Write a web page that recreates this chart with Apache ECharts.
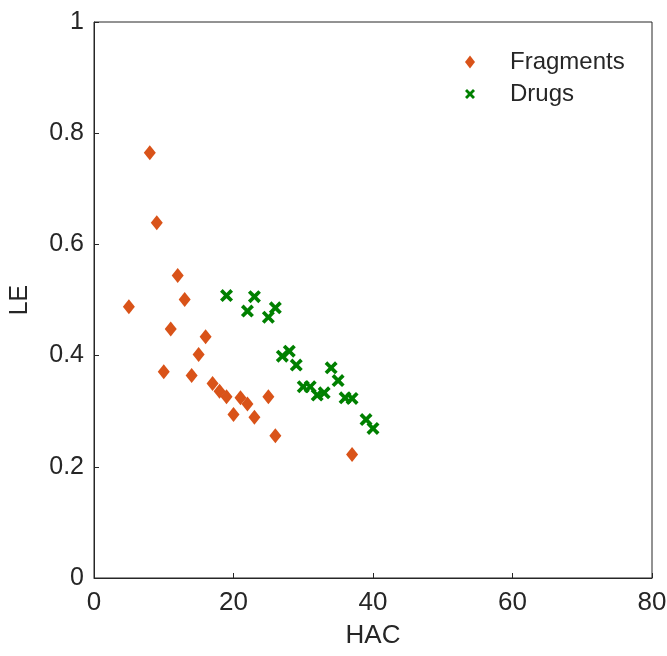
<!DOCTYPE html>
<html>
<head>
<meta charset="utf-8">
<script src="https://cdn.jsdelivr.net/npm/echarts@6/dist/echarts.min.js"></script>
<style>
  html, body { margin: 0; padding: 0; background: #fff; }
  #main { width: 667px; height: 656px; }
</style>
</head>
<body>
<div id="main"></div>
<script>
// 数据
var fragHac = [5, 8, 9, 10, 11, 12, 13, 14, 15, 16, 17, 18, 19, 20, 21, 22, 23, 25, 26, 37];
var fragLe = [0.488, 0.765, 0.639, 0.371, 0.448, 0.544, 0.501, 0.364, 0.402, 0.434,
  0.350, 0.336, 0.326, 0.294, 0.324, 0.313, 0.289, 0.326, 0.256, 0.222];
var drugHac = [19, 22, 23, 25, 26, 27, 28, 29, 30, 31, 32, 33, 34, 35, 36, 37, 39, 40];
var drugLe = [0.508, 0.480, 0.506, 0.469, 0.486, 0.399, 0.408, 0.383, 0.344, 0.344,
  0.329, 0.333, 0.378, 0.355, 0.324, 0.323, 0.285, 0.269];

var xTicks = [0, 20, 40, 60, 80];
var yTicks = [0, 0.2, 0.4, 0.6, 0.8, 1];

var crossPath = "path://M2,0 L5,3 L8,0 L10,2 L7,5 L10,8 L8,10 L5,7 L2,10 L0,8 L3,5 L0,2 Z";
var txtColor = "#262626";
var font = "Arial, Liberation Sans";

var myChart = echarts.init(document.getElementById("main"));

var option = {
  animation: false,
  grid: {
    left: 94,
    right: 15,
    top: 22,
    bottom: 78,
    outerBoundsMode: "none", // 不自动收缩
    show: true,
    borderColor: txtColor, // 外框
    borderWidth: 1
  },
  legend: {
    left: 460,
    top: 45,
    orient: "vertical",
    itemGap: 8,
    itemWidth: 10,
    itemHeight: 13,
    textStyle: { color: txtColor, fontSize: 24, fontFamily: font, padding: [0, 0, 0, 30] },
    data: [
      { name: "Fragments", icon: "diamond" },
      { name: "Drugs", icon: crossPath }
    ]
  },
  xAxis: {
    type: "value",
    min: xTicks[0],
    max: xTicks[xTicks.length - 1],
    interval: 20,
    name: "HAC",
    nameLocation: "middle",
    nameGap: 45,
    nameTextStyle: { color: txtColor, fontSize: 26, fontFamily: font },
    splitLine: { show: false },
    axisLine: { show: true, lineStyle: { color: txtColor } },
    axisTick: { inside: true, length: 5, lineStyle: { color: txtColor } },
    axisLabel: { color: txtColor, fontSize: 26, margin: 12, fontFamily: font }
  },
  yAxis: {
    type: "value",
    min: yTicks[0],
    max: yTicks[yTicks.length - 1],
    interval: 0.2,
    name: "LE",
    nameLocation: "middle",
    nameGap: 61,
    nameTextStyle: { color: txtColor, fontSize: 25, fontFamily: font },
    splitLine: { show: false },
    axisLine: { show: true, lineStyle: { color: txtColor } },
    axisTick: { inside: true, length: 5, lineStyle: { color: txtColor } },
    axisLabel: { color: txtColor, fontSize: 25, margin: 10, fontFamily: font }
  },
  series: [
    {
      name: "Fragments",
      type: "scatter",
      symbol: "diamond",
      symbolSize: [12, 15],
      itemStyle: { color: "#D95319", opacity: 1 },
      data: fragHac.map(function (h, i) { return [h, fragLe[i]]; })
    },
    {
      name: "Drugs",
      type: "scatter",
      symbol: crossPath,
      symbolSize: 13,
      itemStyle: { color: "#008000", opacity: 1 },
      data: drugHac.map(function (h, i) { return [h, drugLe[i]]; })
    }
  ]
};

myChart.setOption(option);
</script>
</body>
</html>
